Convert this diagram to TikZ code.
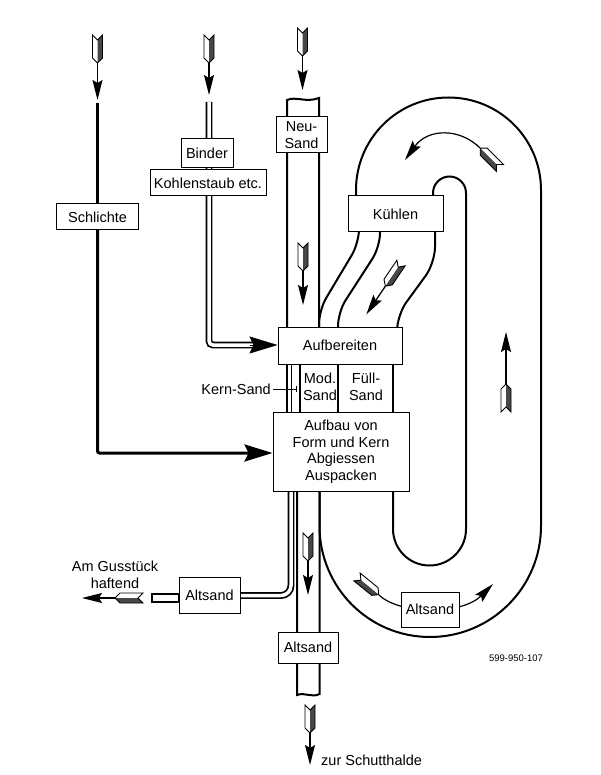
\documentclass[tikz,border=0pt]{standalone}
\usepackage{fontspec}
\setmainfont{Liberation Sans}
\usetikzlibrary{arrows.meta}
\newcommand{\myfletch}{%
  \fill[white] (-5,0) -- (0,5) -- (5,0) -- (5,23) -- (0,28) -- (-5,23) -- cycle;
  \fill[fletchcol] (0,5) -- (5,0) -- (5,23) -- (0,28) -- cycle;
  \draw[line width=0.9pt, line join=miter] (-5,0) -- (0,5) -- (5,0) -- (5,23) -- (0,28) -- (-5,23) -- cycle;}
\begin{document}
\begin{tikzpicture}[x=1pt,y=-1pt,
  every node/.style={font=\fontsize{14.5}{16.5}\selectfont, inner sep=0pt, align=center},
  boxed/.style={draw, line width=1pt, fill=white},
  pipe/.style={line width=2pt},
  dpipe/.style={line width=1.7pt, double=white, double distance=3.5pt},
  arrowtip/.style={-{Stealth[length=20pt,width=10pt,inset=3pt]}},
  bigarrowtip/.style={-{Stealth[length=28pt,width=17pt,inset=4pt]}},
  fletchcol/.style={fill=black!72},
  pics/fletch/.style={code={\myfletch}},
  pics/farrow/.style={code={
    \myfletch
    \draw[line width=1.3pt, arrowtip] (0,28) -- (0,#1);
  }}
]
\useasboundingbox (0,0) rectangle (601,775);

% ---------- central column ----------
\draw[pipe] (287,340) -- (287,100) .. controls (296,96) and (306,103) .. (319,98) -- (319,340);
\draw[pipe] (287,355) -- (287,420);
\draw[line width=1pt] (291,355) -- (291,420);
\draw[pipe] (300,355) -- (300,420);
\draw[pipe] (338,355) -- (338,420);
\draw[pipe] (393,355) -- (393,420);
\draw[pipe] (297,480) -- (297,695) .. controls (305,692) and (312,698) .. (319.5,694) -- (319.5,480);

% ---------- channels from Kuehlen ----------
\draw[pipe, rounded corners=14pt] (359,220) -- (359,243) -- (319,310) -- (319,340);
\draw[pipe, rounded corners=14pt] (380,220) -- (380,247) -- (338,312) -- (338,340);
\draw[pipe, rounded corners=16pt] (435,220) -- (435,263) -- (397,315) -- (397,340);

% ---------- loop ----------
\draw[pipe] (319.5,480) -- (319.5,526) .. controls (319.5,587.3) and (368.7,637) .. (430,637)
  .. controls (491.3,637) and (541,587.3) .. (541,526) -- (541,190)
  .. controls (541,138.9) and (499.6,97.5) .. (448.5,97.5)
  .. controls (397.4,97.5) and (356,138.9) .. (356,190) -- (356,205);
\draw[pipe] (393,480) -- (393,529) .. controls (393,549.2) and (409.3,565.5) .. (429.5,565.5)
  .. controls (449.7,565.5) and (466,549.2) .. (466,529) -- (466,193)
  .. controls (466,183.9) and (458.6,176.5) .. (449.5,176.5)
  .. controls (440.4,176.5) and (433,183.9) .. (433,193) -- (433,205);

% ---------- left Altsand pipe ----------
\draw[dpipe, rounded corners=10pt] (291,480) -- (291,595.5) -- (230,595.5);
\draw[line width=1.5pt, fill=white] (152,594) rectangle (179,602);

% ---------- Binder pipe ----------
\coordinate (bj) at (209,345);
\draw[dpipe, rounded corners=4pt] (209,102) -- (bj) -- (253,345);

% ---------- Schlichte line ----------
\coordinate (sj) at (97.5,453);
\draw[line width=3pt] (97.5,103) -- (97.5,210);
\draw[line width=3pt, rounded corners=2pt] (97.5,225) -- (sj) -- (255,453);

% ---------- boxes ----------
\node[boxed, minimum width=51pt, minimum height=36pt] (neu) at (301.5,135) {Neu-\\Sand};
\node[boxed, minimum width=52pt, minimum height=29pt] (binder) at (207,153.5) {Binder};
\node[boxed, minimum width=116pt, minimum height=26pt] (kohle) at (208,183) {Kohlenstaub etc.};
\node[boxed, minimum width=82pt, minimum height=26pt] (schl) at (97.5,217) {Schlichte};
\node[boxed, minimum width=95pt, minimum height=36pt] (kuehl) at (395.5,214) {Kühlen};
\node[boxed, minimum width=124pt, minimum height=37pt] (aufb) at (340,345.5) {Aufbereiten};
\node[boxed, minimum width=136pt, minimum height=79pt] (aufbau) at (341,451.5) {Aufbau von\\Form und Kern\\Abgiessen\\Auspacken};
\node[boxed, minimum width=61pt, minimum height=36pt] (altL) at (209.5,595) {Altsand};
\node[boxed, minimum width=60pt, minimum height=31pt] (altB) at (308,647.5) {Altsand};

% big arrow heads
\draw[line width=0.5pt, bigarrowtip] (250,345) -- (aufb.west |- bj);
\draw[line width=3pt, bigarrowtip] (250,453) -- (aufbau.west |- sj);

% ---------- fletched arrows ----------
\pic at (97.5,35) {farrow=65};
\pic at (209,35) {farrow=60};
\pic at (302.5,28) {farrow=62};
\pic at (303,243) {farrow=62};
\pic at (308,533) {farrow=62};
\pic at (310,705) {farrow=60};
\pic[yscale=-1] at (506,412) {farrow=80};
\pic[rotate=-34] at (401,263) {farrow=62};
\pic[rotate=-90] at (143,598) {farrow=61};

% curved arrows in the loop
\pic[rotate=-135] at (500,168) {fletch};
\coordinate (ta) at (480,148);
\coordinate (tb) at (405,160);
\draw[line width=1.2pt, arrowtip] (ta) .. controls (460,128) and (428,128) .. (tb);

\pic[rotate=51, xscale=-1] at (357,577) {fletch};
\coordinate (ba) at (379,595);
\coordinate (bb) at (493,584);
\draw[line width=1.2pt, arrowtip] (ba) .. controls (400,615) and (462,615) .. (bb);
\node[boxed, minimum width=58pt, minimum height=35pt] (altR) at (430,609.5) {Altsand};

% ---------- labels ----------
\node[anchor=east] (kern) at (271,389) {Kern-Sand};
\coordinate (kt) at (296,389);
\draw[line width=0.7pt] (kern.east) ++(1.5,0) -- (kt);
\draw[line width=0.7pt] (296,386) -- (296,392);
\node (mod) at (320,387) {Mod.\\Sand};
\node (fuell) at (366,387) {Füll-\\Sand};
\node (gus) at (115,575) {Am Gusstück\\haftend};
\node[anchor=west] (zur) at (321,760) {zur Schutthalde};
\node[font=\fontsize{9.5}{11}\selectfont] (num) at (516,658) {599-950-107};
\end{tikzpicture}
\end{document}
